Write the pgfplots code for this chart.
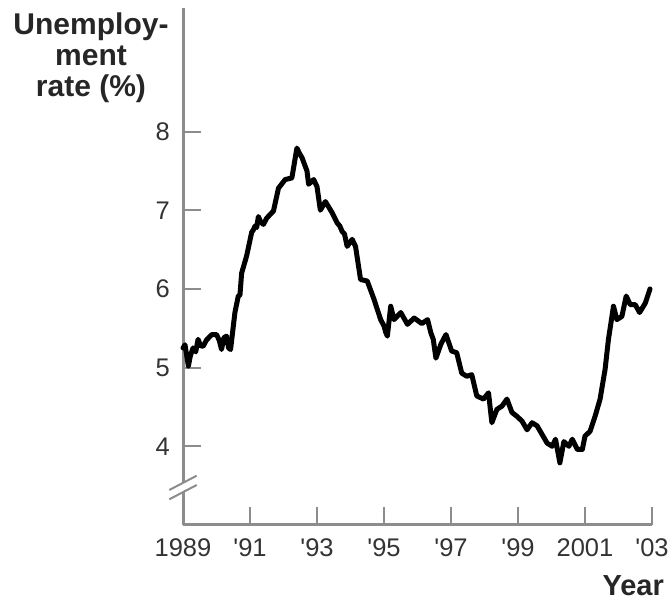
\documentclass[border=0pt]{standalone}
\usepackage{fontspec}
\setmainfont{Liberation Sans}
\usepackage{pgfplots}
\pgfplotsset{compat=1.18}
\definecolor{axgray}{RGB}{140,140,140}
\begin{document}
\begin{tikzpicture}
\useasboundingbox (-183pt,-76pt) rectangle (488pt,525pt);
\begin{axis}[
  at={(0pt,0pt)}, anchor=south west,
  scale only axis, width=469pt, height=517pt,
  xmin=1989, xmax=2003, ymin=3, ymax=9.57,
  axis x line=bottom, axis y line=left,
  axis line style={-, draw=axgray, line width=3pt},
  xtick={1989,1991,1993,1995,1997,1999,2001,2003},
  xticklabels={1989,\textquotesingle91,\textquotesingle93,\textquotesingle95,\textquotesingle97,\textquotesingle99,2001,\textquotesingle03},
  ytick={4,5,6,7,8},
  tick align=inside, major tick length=18pt,
  tick style={draw=axgray, line width=2pt},
  /pgf/number format/assume math mode=true,
  ticklabel style={font=\fontsize{25.5}{25.5}\selectfont, text=black!80, inner sep=0pt},
  xticklabel style={anchor=north, yshift=-13pt},
  yticklabel style={anchor=east, xshift=-13pt},
  clip=false,
]
\addplot[black, line width=5pt, line join=round, line cap=round] coordinates {
(1989.00,5.25) (1989.06,5.29) (1989.16,5.02) (1989.22,5.15) (1989.30,5.25)
(1989.38,5.20) (1989.45,5.36) (1989.52,5.28) (1989.60,5.27) (1989.70,5.35)
(1989.86,5.42) (1990.00,5.42) (1990.08,5.35) (1990.15,5.23) (1990.22,5.38)
(1990.30,5.40) (1990.36,5.25) (1990.42,5.23) (1990.55,5.70) (1990.65,5.91)
(1990.70,5.92) (1990.75,6.20) (1990.90,6.42) (1991.05,6.72) (1991.10,6.75)
(1991.15,6.80) (1991.20,6.78) (1991.25,6.92) (1991.32,6.85) (1991.40,6.82)
(1991.50,6.90) (1991.70,6.99) (1991.85,7.28) (1992.05,7.39) (1992.25,7.41)
(1992.40,7.79) (1992.48,7.72) (1992.55,7.67) (1992.70,7.50) (1992.75,7.33)
(1992.90,7.39) (1993.00,7.30) (1993.10,7.00) (1993.25,7.11) (1993.45,6.97)
(1993.60,6.84) (1993.68,6.80) (1993.75,6.73) (1993.82,6.70) (1993.90,6.54)
(1994.05,6.63) (1994.15,6.54) (1994.30,6.12) (1994.50,6.10) (1994.70,5.87)
(1994.90,5.61) (1995.00,5.53) (1995.05,5.45) (1995.10,5.40) (1995.20,5.78)
(1995.30,5.61) (1995.50,5.70) (1995.70,5.55) (1995.90,5.63) (1996.13,5.56)
(1996.30,5.61) (1996.40,5.44) (1996.47,5.36) (1996.55,5.12) (1996.70,5.30)
(1996.85,5.42) (1997.02,5.21) (1997.17,5.19) (1997.32,4.93) (1997.47,4.89)
(1997.62,4.91) (1997.77,4.64) (1997.97,4.60) (1998.12,4.68) (1998.22,4.30)
(1998.37,4.47) (1998.52,4.51) (1998.67,4.60) (1998.82,4.43) (1998.97,4.38)
(1999.12,4.32) (1999.27,4.21) (1999.42,4.30) (1999.57,4.26) (1999.72,4.15)
(1999.87,4.04) (2000.02,4.00) (2000.12,4.09) (2000.25,3.79) (2000.37,4.06)
(2000.52,4.00) (2000.62,4.09) (2000.77,3.96) (2000.92,3.96) (2001.00,4.13)
(2001.15,4.19) (2001.30,4.38) (2001.45,4.60) (2001.60,4.98) (2001.70,5.36)
(2001.85,5.78) (2001.95,5.61) (2002.10,5.65) (2002.23,5.91) (2002.35,5.80)
(2002.50,5.80) (2002.63,5.70) (2002.80,5.82) (2002.94,6.00)
};
\end{axis}
% axis break
\fill[white] (-4pt,33pt) rectangle (4pt,42pt);
\draw[axgray, line width=2pt] (-13.7pt,35pt) -- (13.7pt,49.3pt);
\draw[axgray, line width=2pt] (-13.7pt,25.7pt) -- (13.7pt,40pt);
% labels
\node[anchor=north, align=center, inner sep=0pt, font=\fontsize{30}{31}\selectfont\bfseries, text=black!85]
  at (-92pt,512pt) {Unemploy-\\ment\\rate (\%)};
\node[anchor=base east, inner sep=0pt, font=\fontsize{29}{30}\selectfont\bfseries, text=black!85]
  at (481pt,-71pt) {Year};
\end{tikzpicture}
\end{document}
